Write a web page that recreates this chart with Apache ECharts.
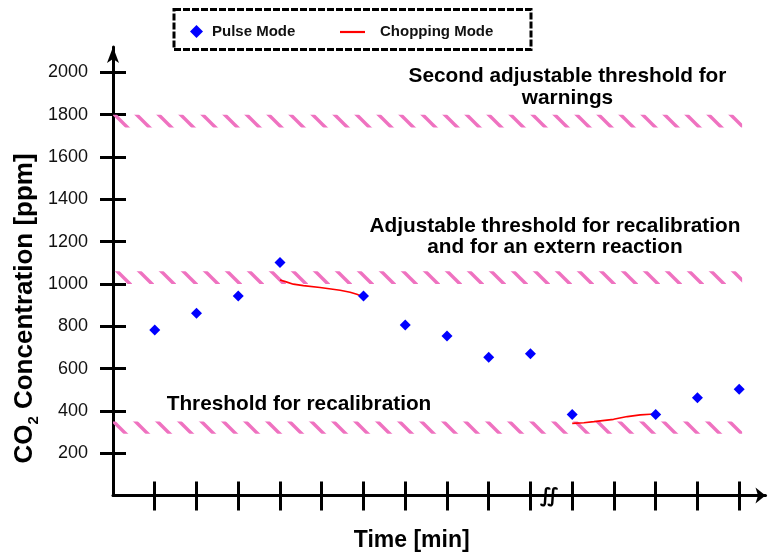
<!DOCTYPE html>
<html><head><meta charset="utf-8">
<script src="https://cdn.jsdelivr.net/npm/echarts@6/dist/echarts.min.js"></script>
<style>html,body{margin:0;padding:0;background:#fff}#c{width:771px;height:555px}</style>
</head><body><div id="c"></div>
<script>
// ---- data ----
const yTicks = [200, 400, 600, 800, 1000, 1200, 1400, 1600, 1800, 2000];
const xTicks = [1, 2, 3, 4, 5, 6, 7, 8, 9, 10, 11, 12, 13, 14, 15];
const pulseX = [1, 2, 3, 4, 6, 7, 8, 9, 10, 11, 13, 14, 15];
const pulseY = [782, 861, 943, 1101, 943, 806, 754, 654, 670, 383, 383, 462, 502];
const chopAX = [4, 4.13, 4.32, 4.56, 4.96, 5.44, 5.68, 5.84, 5.96];
const chopAY = [1019, 1011, 999, 992, 983, 970, 961, 951, 942];
const chopBX = [11, 11.28, 11.52, 11.99, 12.32, 12.63, 12.87, 13];
const chopBY = [341, 344, 349, 360, 373, 381, 384, 385];
const bandLow = [1740, 1000, 292];
const bandHigh = [1800, 1060, 350];
const bandX = [0, 15.07];
const seriesNames = ['Pulse Mode', 'Chopping Mode'];
const noteTop = 'Second adjustable threshold for\nwarnings';
const noteMid = 'Adjustable threshold for recalibration\nand for an extern reaction';
const noteLow = 'Threshold for recalibration';
const xTitle = 'Time [min]';

const FONT = '"Liberation Sans", Arial, sans-serif';

function hatch() {
  const P = 22;
  const c = document.createElement('canvas');
  c.width = P; c.height = P;
  const g = c.getContext('2d');
  g.strokeStyle = '#ef72c0';
  g.lineWidth = 3.4;
  [-P, 0, P].forEach(function (x0) {
    g.beginPath(); g.moveTo(x0, 0); g.lineTo(x0 + P, P); g.stroke();
  });
  return c;
}
const pat = { image: hatch(), repeat: 'repeat' };

const zip = (xs, ys) => xs.map((x, i) => [x, ys[i]]);

const chart = echarts.init(document.getElementById('c'), null, { renderer: 'canvas' });
const xMax = 15.63, yMax = 2120;
const option = {
  animation: false,
  backgroundColor: '#fff',
  grid: { left: 113, right: 5.5, top: 47, bottom: 59.5, containLabel: false },
  legend: [
    { data: [seriesNames[0]], left: 190, top: 24, padding: 0, itemWidth: 13, itemHeight: 13,
      textStyle: { fontFamily: FONT, fontWeight: 'bold', fontSize: 15, color: '#111', padding: [0, 0, 0, 4] } },
    { data: [{ name: seriesNames[1], icon: 'rect' }], left: 340, top: 24.5, padding: 0, itemWidth: 25, itemHeight: 2.2,
      textStyle: { fontFamily: FONT, fontWeight: 'bold', fontSize: 15, color: '#111', padding: [0, 0, 0, 10] } }
  ],
  xAxis: [
    { type: 'value', position: 'bottom', min: 0, max: xMax,
      axisLine: { show: true, symbol: ['none', 'arrow'], symbolSize: [12, 10], lineStyle: { color: '#000', width: 3 } },
      axisTick: { show: true, customValues: xTicks, length: 15, lineStyle: { color: '#000', width: 3 } },
      axisLabel: { show: false }, splitLine: { show: false } },
    { type: 'value', position: 'bottom', min: 0, max: xMax,
      axisLine: { show: false },
      axisTick: { show: true, inside: true, customValues: xTicks, length: 14, lineStyle: { color: '#000', width: 3 } },
      axisLabel: { show: false }, splitLine: { show: false } }
  ],
  yAxis: [
    { type: 'value', position: 'left', min: 0, max: yMax,
      axisLine: { show: true, symbol: ['none', 'arrow'], symbolSize: [9, 16], lineStyle: { color: '#000', width: 3 } },
      axisTick: { show: true, customValues: yTicks, length: 13, lineStyle: { color: '#000', width: 3 } },
      axisLabel: { show: true, customValues: yTicks, margin: 25, fontFamily: FONT, fontSize: 18, color: '#111',
        formatter: function (v) { return String(v); } },
      splitLine: { show: false } },
    { type: 'value', position: 'left', min: 0, max: yMax,
      axisLine: { show: false },
      axisTick: { show: true, inside: true, customValues: yTicks, length: 13, lineStyle: { color: '#000', width: 3 } },
      axisLabel: { show: false }, splitLine: { show: false } }
  ],
  series: [
    { name: seriesNames[0], type: 'scatter', xAxisIndex: 0, yAxisIndex: 0, symbol: 'diamond', symbolSize: 11,
      itemStyle: { color: '#0000ff', opacity: 1 }, z: 5,
      data: zip(pulseX, pulseY),
      markArea: { silent: true, z: 1, itemStyle: { color: pat, opacity: 1, borderWidth: 0 },
        data: bandLow.map((lo, i) => [{ xAxis: bandX[0], yAxis: lo }, { xAxis: bandX[1], yAxis: bandHigh[i] }]) } },
    { name: seriesNames[1], type: 'line', xAxisIndex: 0, yAxisIndex: 0, symbol: 'none', z: 4,
      lineStyle: { color: '#ff0000', width: 1.6 }, itemStyle: { color: '#ff0000' },
      data: zip(chopAX, chopAY) },
    { name: seriesNames[1], type: 'line', xAxisIndex: 0, yAxisIndex: 0, symbol: 'none', z: 4,
      lineStyle: { color: '#ff0000', width: 1.6 }, itemStyle: { color: '#ff0000' },
      data: zip(chopBX, chopBY) }
  ],
  graphic: [
    { type: 'rect', shape: { x: 174, y: 9.5, width: 357, height: 40 }, z: 10,
      style: { fill: 'none', stroke: '#000', lineWidth: 3, lineDash: [7, 2] } },
    { type: 'text', x: 567.5, y: 65, z: 10,
      style: { text: noteTop, fill: '#000', font: 'bold 20.8px ' + FONT, align: 'center', verticalAlign: 'top', lineHeight: 22 } },
    { type: 'text', x: 555, y: 216, z: 10,
      style: { text: noteMid, fill: '#000', font: 'bold 20.8px ' + FONT, align: 'center', verticalAlign: 'top', lineHeight: 21 } },
    { type: 'text', x: 299, y: 404, z: 10,
      style: { text: noteLow, fill: '#000', font: 'bold 20.8px ' + FONT, align: 'center', verticalAlign: 'middle' } },
    { type: 'text', x: 411.7, y: 541, z: 10,
      style: { text: xTitle, fill: '#000', font: 'bold 23px ' + FONT, align: 'center', verticalAlign: 'middle' } },
    { type: 'text', x: 25, y: 308.5, rotation: Math.PI / 2, z: 10,
      style: { text: '{b|CO}{s|2}{b| Concentration [ppm]}', align: 'center', verticalAlign: 'middle',
        rich: {
          b: { fontFamily: FONT, fontWeight: 'bold', fontSize: 26, fill: '#000', lineHeight: 32, verticalAlign: 'middle' },
          s: { fontFamily: FONT, fontWeight: 'bold', fontSize: 15, fill: '#000', lineHeight: 32, verticalAlign: 'bottom' }
        } } },
    { type: 'text', x: 549, y: 497, z: 10,
      style: { text: '∬', fill: '#000', font: 'italic bold 20px "DejaVu Sans", sans-serif', align: 'center', verticalAlign: 'middle' } }
  ]
};
chart.setOption(option);
</script>
</body></html>
